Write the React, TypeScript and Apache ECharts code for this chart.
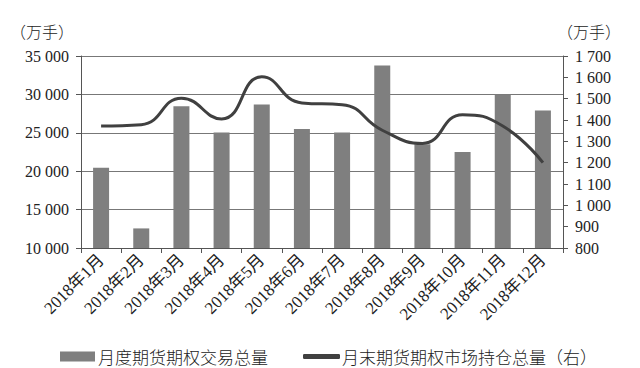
import React, { useEffect, useRef } from "react";
import * as echarts from "echarts";

const categories = ["2018年1月","2018年2月","2018年3月","2018年4月","2018年5月","2018年6月","2018年7月","2018年8月","2018年9月","2018年10月","2018年11月","2018年12月"];
const volume = [20450, 12550, 28450, 25050, 28700, 25500, 25050, 33750, 23500, 22500, 30000, 27900];
const openInterest = [1372, 1378, 1502, 1405, 1603, 1480, 1472, 1352, 1290, 1425, 1372, 1200];
const leftTicks = { min: 10000, max: 35000, interval: 5000 };
const rightTicks = { min: 800, max: 1700, interval: 100 };
const barName = "月度期货期权交易总量";
const lineName = "月末期货期权市场持仓总量（右）";
const unit = "（万手）";

const fmt = (v: number) => String(v).replace(/\B(?=(\d{3})+(?!\d))/g, " ");

export default function App() {
  const ref = useRef<HTMLDivElement>(null);
  useEffect(() => {
    const chart = echarts.init(ref.current!, undefined, { renderer: "svg" });
    const serif = "'Liberation Serif', 'Times New Roman', 'Noto Sans CJK SC', serif";
    const cjk = "'Noto Sans CJK SC', sans-serif";
    const axisColor = "#555";
    chart.setOption({
      animation: false,
      backgroundColor: "#fff",
      textStyle: { fontFamily: serif, color: "#222" },
      grid: { left: 81, right: 77, top: 56, bottom: 120, containLabel: false },
      graphic: [
        { type: "text", left: 10, top: 23, style: { text: unit, font: `300 16px ${cjk}`, fill: "#222" } },
        { type: "text", left: 557, top: 23, style: { text: unit, font: `300 16px ${cjk}`, fill: "#222" } },
      ],
      legend: [
        {
          data: [{ name: barName, icon: "rect" }],
          left: 55, top: 343, itemWidth: 35, itemHeight: 10, itemGap: 4,
          textStyle: { fontSize: 17, fontWeight: 300, fontFamily: cjk, color: "#222", padding: [0, 0, 0, -2] },
        },
        {
          data: [{ name: lineName, icon: "roundRect" }],
          left: 298, top: 343, itemWidth: 37, itemHeight: 5, itemGap: 4,
          textStyle: { fontSize: 17, fontWeight: 300, fontFamily: cjk, color: "#222", padding: [0, 0, 0, -3] },
        },
      ],
      xAxis: {
        type: "category",
        data: categories,
        axisLine: { lineStyle: { color: axisColor, width: 1 } },
        axisTick: { show: true, length: 5, lineStyle: { color: axisColor } },
        axisLabel: { rotate: 45, fontSize: 17, color: "#222", fontFamily: serif, margin: 9, interval: 0 },
      },
      yAxis: [
        {
          type: "value",
          ...leftTicks,
          axisLine: { show: true, lineStyle: { color: axisColor } },
          axisTick: { show: true, length: 5, lineStyle: { color: axisColor } },
          splitLine: { show: true, lineStyle: { color: "#777", width: 1 } },
          axisLabel: { formatter: fmt, fontSize: 16, color: "#222", fontFamily: serif, margin: 12 },
        },
        {
          type: "value",
          ...rightTicks,
          position: "right",
          axisLine: { show: true, lineStyle: { color: axisColor } },
          axisTick: { show: true, length: 5, lineStyle: { color: axisColor } },
          splitLine: { show: false },
          axisLabel: { formatter: fmt, fontSize: 16, color: "#222", fontFamily: serif, margin: 12 },
        },
      ],
      series: [
        {
          name: barName,
          type: "bar",
          data: volume,
          yAxisIndex: 0,
          barWidth: 16,
          itemStyle: { color: "#7f7f7f" },
        },
        {
          name: lineName,
          type: "line",
          data: openInterest,
          yAxisIndex: 1,
          smooth: 0.5,
          showSymbol: false,
          symbol: "none",
          lineStyle: { color: "#404040", width: 3 },
          itemStyle: { color: "#404040" },
        },
      ],
    });
    return () => chart.dispose();
  }, []);
  return <div ref={ref} style={{ width: 640, height: 368, position: "absolute", left: 0, top: 0 }} />;
}
